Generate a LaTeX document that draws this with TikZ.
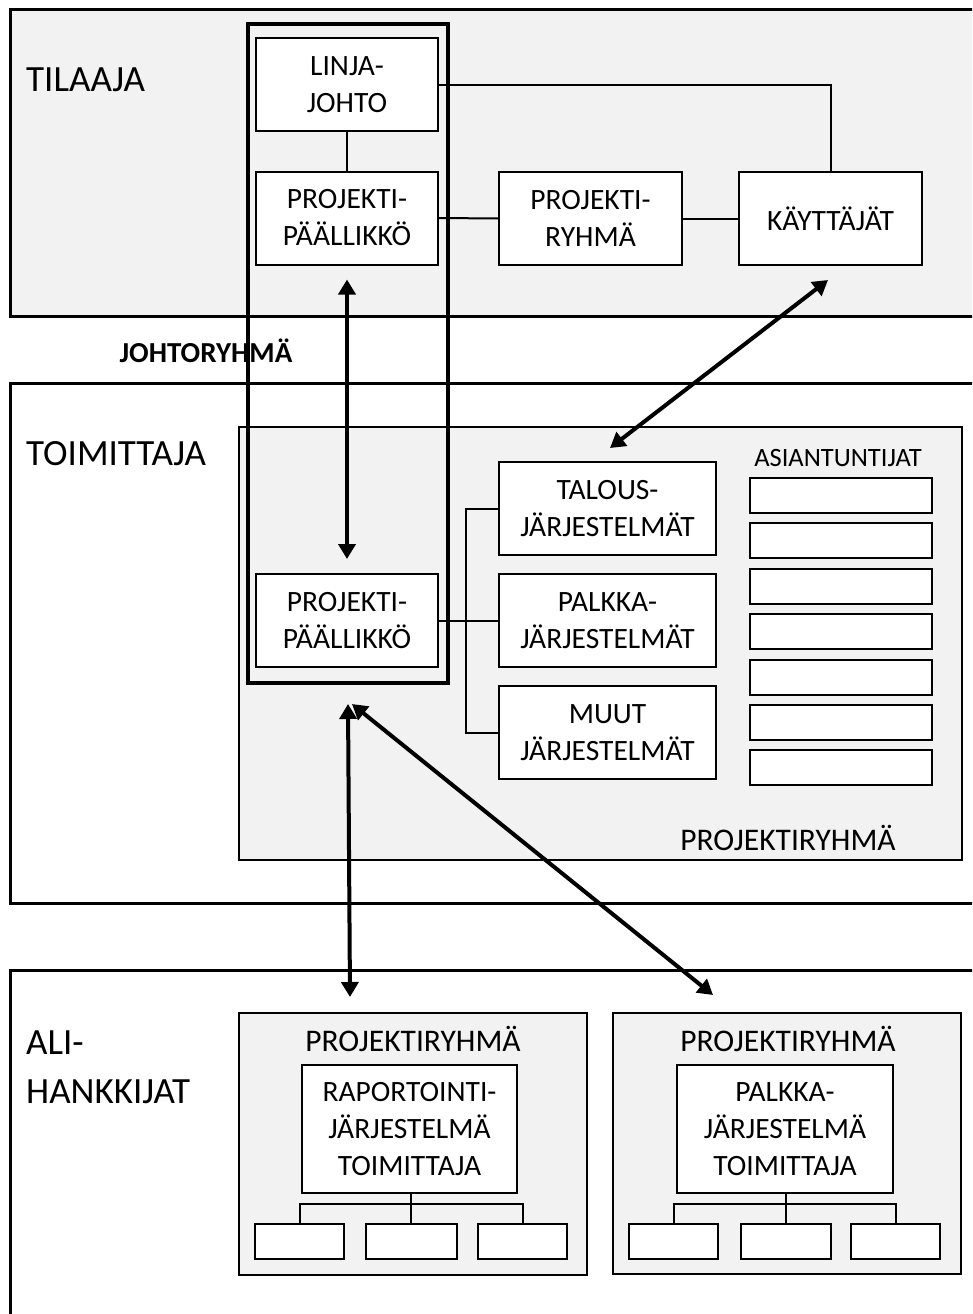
\documentclass[tikz,border=0pt]{standalone}
\usepackage{fontspec}
\setmainfont{Carlito}
\usetikzlibrary{arrows.meta,calc}

\definecolor{panelgrey}{RGB}{242,242,242}

\tikzset{
  orgbox/.style n args={2}{draw, fill=white, line width=2pt, inner sep=0pt,
    minimum width=#1, minimum height=#2, align=center,
    font=\fontsize{29.5}{37}\selectfont},
  emptybox/.style n args={2}{draw, fill=white, line width=2pt, inner sep=0pt,
    minimum width=#1, minimum height=#2},
  partylabel/.style={inner sep=0pt, anchor=base west, font=\fontsize{37}{44}\selectfont},
  grouplabel/.style={inner sep=0pt, anchor=base, font=\fontsize{31.5}{38}\selectfont},
  outerpanel/.style={line width=3pt},
  innerpanel/.style={line width=2.5pt, fill=panelgrey},
  link/.style={line width=2pt},
  bigarrow/.style={line width=4pt, {Triangle[length=15pt,width=17pt]}-{Triangle[length=15pt,width=17pt]}},
}

\begin{document}
\begin{tikzpicture}[x=1pt, y=-1pt]
\useasboundingbox (0,0) rectangle (972,1314);
\clip (0,0) rectangle (972,1314);
\fill[white] (0,0) rectangle (972,1314);

% --- party panels ---
\draw[outerpanel, fill=panelgrey] (10,10) rectangle (995,316);
\draw[outerpanel, fill=white] (10,383) rectangle (995,903);
\draw[outerpanel, fill=white] (10,970) rectangle (995,1340);

\node[partylabel] (tilaaja) at (26,92) {TILAAJA};
\node[partylabel] (toimittaja) at (26,465) {TOIMITTAJA};
\node[partylabel] (ali1) at (26,1054) {ALI-};
\node[partylabel] (ali2) at (26,1103) {HANKKIJAT};

% --- supplier project team ---
\draw[innerpanel] (239,427) rectangle (962,860);
\node[grouplabel] (ptlabel) at (788,850) {PROJEKTIRYHMÄ};
\node[grouplabel, font=\fontsize{26.5}{32}\selectfont] (experts) at (838,466) {ASIANTUNTIJAT};
\foreach \k in {1,...,7}{
  \node[emptybox={182pt}{35pt}] (a\k) at (841,{495.5+45.4*(\k-1)}) {};
}

% --- subcontractor project teams ---
\draw[innerpanel] (239,1013) rectangle (587,1275);
\draw[innerpanel] (613,1013) rectangle (961,1274);
\node[grouplabel] (sublabelA) at (413,1051) {PROJEKTIRYHMÄ};
\node[grouplabel] (sublabelB) at (788,1051) {PROJEKTIRYHMÄ};

\node[orgbox={215pt}{128pt}] (rap) at (409.5,1129) {RAPORTOINTI-\\JÄRJESTELMÄ\\TOIMITTAJA};
\node[orgbox={216pt}{128pt}] (pal2) at (785,1129) {PALKKA-\\JÄRJESTELMÄ\\TOIMITTAJA};

\node[emptybox={89pt}{35pt}] (r1) at (299.5,1241.5) {};
\node[emptybox={91pt}{35pt}] (r2) at (411,1241.5) {};
\node[emptybox={89pt}{35pt}] (r3) at (522.5,1241.5) {};
\node[emptybox={89pt}{35pt}] (p1) at (673.5,1241.5) {};
\node[emptybox={90pt}{35pt}] (p2) at (786,1241.5) {};
\node[emptybox={89pt}{35pt}] (p3) at (895.5,1241.5) {};

\draw[link] (r2.north) -- (r2.north |- rap.south);
\draw[link] (r1.north) -- ++(0,-19) -| (r3.north);
\draw[link] (p2.north) -- (p2.north |- pal2.south);
\draw[link] (p1.north) -- ++(0,-19) -| (p3.north);

% --- client organisation ---
\node[orgbox={182pt}{93pt}] (linja) at (347,84.5) {LINJA-\\JOHTO};
\node[orgbox={182pt}{93pt}] (pp1) at (347,218) {PROJEKTI-\\PÄÄLLIKKÖ};
\node[orgbox={183pt}{93pt}] (pr) at (590.5,218.5) {PROJEKTI-\\RYHMÄ};
\node[orgbox={183pt}{93pt}] (kay) at (830.5,218.5) {KÄYTTÄJÄT};

\draw[link] (linja.south) -- (pp1.north);
\draw[link] (linja.east) -| (kay.north);
\draw[link] (pp1.east) -- (pr.west);
\draw[link] (pr.east) -- (kay.west);

% --- supplier organisation ---
\node[orgbox={182pt}{93pt}] (pp2) at (347,620.5) {PROJEKTI-\\PÄÄLLIKKÖ};
\node[orgbox={217pt}{93pt}] (talous) at (607.5,508.5) {TALOUS-\\JÄRJESTELMÄT};
\node[orgbox={217pt}{93pt}] (palkka) at (607.5,620.5) {PALKKA-\\JÄRJESTELMÄT};
\node[orgbox={217pt}{93pt}] (muut) at (607.5,732.5) {MUUT\\JÄRJESTELMÄT};

\draw[link] (talous.west) -- ++(-32,0) |- (muut.west);
\draw[link] (pp2.east) -- (palkka.west);

% --- steering group frame ---
\node[inner sep=0pt, anchor=base, font=\fontsize{29}{34}\selectfont\bfseries] (johto) at (206,362) {JOHTORYHMÄ};
\draw[line width=3.5pt] (248,24) rectangle (448,683);

% --- communication arrows ---
\coordinate (hub) at ($(pp2.south)+(1,36)$);
\coordinate (hubB) at ($(pp2.south)+(5,36)$);
\coordinate (subA) at (350,997);
\coordinate (subB) at (713,995);
\draw[bigarrow, shorten <=14pt, shorten >=14pt] (pp1.south) -- (pp2.north);
\draw[bigarrow] ($(kay.south)+(-2.5,14)$) -- ($(talous.north)+(2.5,-13)$);
\draw[bigarrow] (hub) -- (subA);
\draw[bigarrow] (hubB) -- (subB);
\end{tikzpicture}
\end{document}
